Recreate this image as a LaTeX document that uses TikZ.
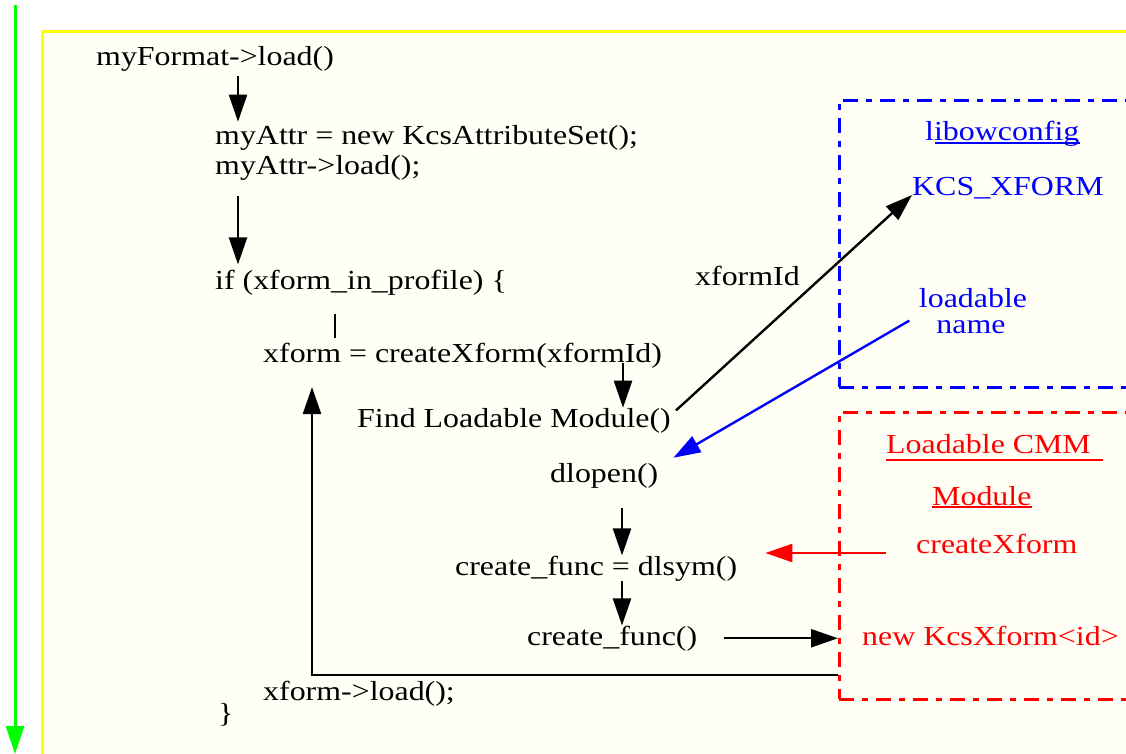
\documentclass[tikz,border=0pt]{standalone}
\usepackage{fontspec}
\setmainfont{Liberation Serif}[FakeStretch=1.16]
\usetikzlibrary{arrows.meta,calc}
\definecolor{cream}{RGB}{255,255,246}
\definecolor{pblue}{RGB}{0,0,255}
\definecolor{pred}{RGB}{255,0,0}
\definecolor{pgreen}{RGB}{0,255,0}
\definecolor{pyellow}{RGB}{255,255,0}
\begin{document}
\begin{tikzpicture}[x=1pt,y=-1pt,
  txt/.style={anchor=base west,inner sep=0pt,font=\fontsize{27.5}{30}\selectfont},
  ctxt/.style={anchor=base,inner sep=0pt,font=\fontsize{27.5}{30}\selectfont},
  arr/.style={line width=2.4pt,-{Triangle[length=27pt,width=18pt]}},
  plain/.style={line width=2.4pt},
  uline/.style={line width=1.6pt},
  ddash/.style={dash pattern=on 15pt off 8pt on 6pt off 8pt},
  modbox/.style={line width=2.6pt,ddash,anchor=north west,inner sep=0pt,minimum width=310pt,minimum height=287pt}]
\useasboundingbox (0,0) rectangle (1126,754);
\clip (0,0) rectangle (1126,754);
\fill[white] (0,0) rectangle (1126,754);
% frame
\node[draw=pyellow,fill=cream,line width=3pt,anchor=north west,inner sep=0pt,minimum width=1120pt,minimum height=760pt] (frame) at (41,30) {};
% green timeline
\coordinate (gtop) at (15,5);
\coordinate (gbot) at (15,754);
\draw[pgreen,line width=3pt,-{Triangle[length=28pt,width=18pt]}] (gtop) -- (gbot);
% module boxes
\node[modbox,draw=pblue] (cfg) at (838,99) {};
\node[modbox,draw=pred] (cmm) at (838,411) {};
% code texts
\node[txt] (fmt) at (96,66) {myFormat->load()};
\node[txt] (attr1) at (215,145) {myAttr = new KcsAttributeSet();};
\node[txt] (attr2) at (215,175) {myAttr->load();};
\node[txt] (ifn) at (215,289) {if (xform\_in\_profile) \{};
\node[txt] (create) at (263,362) {xform = createXform(xformId)};
\node[txt] (find) at (357,427) {Find Loadable Module()};
\node[txt] (dlopen) at (550,482) {dlopen()};
\node[txt] (dlsym) at (455,575) {create\_func = dlsym()};
\node[txt] (cfunc) at (527,645) {create\_func()};
\node[txt] (xload) at (263,700) {xform->load();};
\node[txt] (brace) at (218,722) {\}};
\node[txt] (xid) at (695,285) {xformId};
% blue box texts
\node[txt,text=pblue] (lib) at (925,141) {libowconfig};
\draw[pblue,uline] ([xshift=10pt,yshift=-2pt]lib.base west) -- ([yshift=-2pt]lib.base east);
\node[txt,text=pblue] (kcs) at (912,195) {KCS\_XFORM};
\node[ctxt,text=pblue] (loadable) at (973,307) {loadable};
\node[ctxt,text=pblue] (name) at (971,333) {name};
% red box texts
\node[txt,text=pred] (cmmt) at (886,453) {Loadable CMM};
\draw[pred,uline] ([yshift=-7pt]cmmt.base west) -- ++(217,0);
\node[txt,text=pred] (modt) at (932,505) {Module};
\draw[pred,uline] ([yshift=-2pt]modt.base west) -- ([yshift=-2pt]modt.base east);
\node[txt,text=pred] (cx) at (916,553) {createXform};
\node[txt,text=pred] (newk) at (862,645) {new KcsXform<id>};
% column coordinates
\coordinate (xA) at (238,0);
\coordinate (xT) at (335,0);
\coordinate (xF) at (623,0);
\coordinate (xD) at (622,0);
\coordinate (xR) at (312,0);
\coordinate (yRet) at (0,675);
% connectors
\draw[arr] ([yshift=-4pt]fmt.south -| xA) -- ([yshift=4pt]attr1.north -| xA);
\draw[arr] ([yshift=-15pt]attr2.south -| xA) -- ([yshift=5pt]ifn.north -| xA);
\draw[plain] ([yshift=4pt]create.north -| xT) -- ++(0,-24);
\draw[arr] ([yshift=5pt]create.south -| xF) -- (find.north -| xF);
\draw[arr] ([yshift=-20pt]dlopen.south -| xD) -- (dlsym.north -| xD);
\draw[arr] (dlsym.south -| xD) -- (cfunc.north -| xD);
\draw[arr] ([xshift=27pt]cfunc.east) -- (cfunc.east -| cmm.west);
\draw[arr] (cmm.west |- yRet) -| ([yshift=-19pt]create.south -| xR);
\draw[arr,pred] ([xshift=-30pt]cx.base west) -- ([xshift=28pt]dlsym.base east |- cx.base west);
\draw[arr] ([xshift=5pt,yshift=10pt]find.east) -- (kcs.base west);
\draw[arr,pblue] ([xshift=-27pt,yshift=6pt]name.west) -- ([xshift=15pt,yshift=5pt]dlopen.north east);
\end{tikzpicture}
\end{document}
